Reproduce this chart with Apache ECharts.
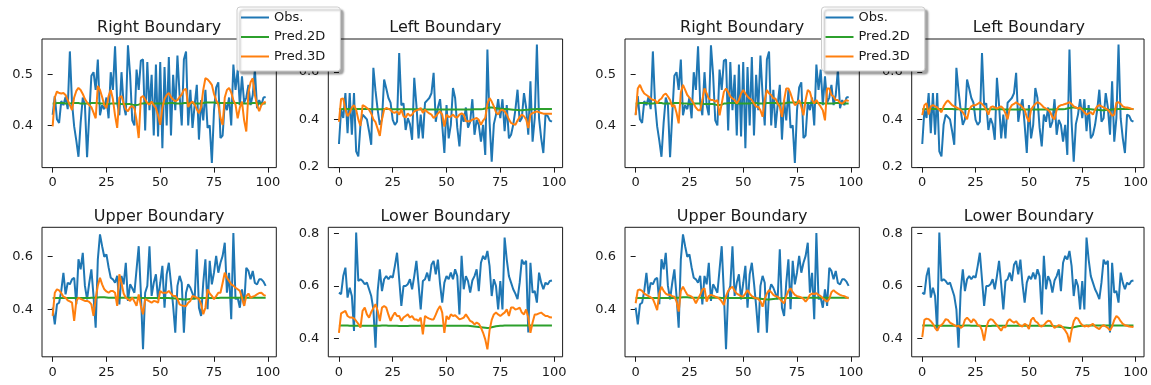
<!DOCTYPE html>
<html><head><meta charset="utf-8">
<script src="https://cdn.jsdelivr.net/npm/echarts@6/dist/echarts.min.js"></script>
<style>html,body{margin:0;padding:0;background:#fff}#c{width:1151px;height:385px}</style>
</head><body><div id="c"></div>
<script>
const seriesNames = ['Obs.', 'Pred.2D', 'Pred.3D'];
const panelTitles = ['Right Boundary', 'Left Boundary', 'Upper Boundary', 'Lower Boundary'];
const xTicks = [0, 25, 50, 75, 100];
const yTicksRB = [0.4, 0.5];
const yTicksLB = [0.2, 0.4, 0.6];
const yTicksUB = [0.4, 0.6];
const yTicksLoB = [0.4, 0.6, 0.8];

const RB_obs = [
0.421,0.458,0.412,0.405,0.448,0.440,0.456,0.432,0.546,0.445,
0.398,0.370,0.338,0.405,0.455,0.440,0.337,0.420,0.498,0.505,
0.470,0.530,0.420,0.440,0.432,0.455,0.414,0.505,0.470,0.556,
0.445,0.420,0.505,0.440,0.420,0.558,0.500,0.410,0.400,0.510,
0.470,0.528,0.530,0.390,0.525,0.430,0.500,0.380,0.520,0.378,
0.525,0.355,0.515,0.400,0.535,0.380,0.500,0.430,0.538,0.460,
0.400,0.530,0.546,0.400,0.470,0.395,0.440,0.480,0.372,0.450,
0.410,0.470,0.395,0.400,0.326,0.430,0.475,0.485,0.375,0.380,
0.445,0.430,0.455,0.400,0.520,0.470,0.510,0.440,0.497,0.445,
0.455,0.480,0.440,0.460,0.510,0.434,0.450,0.440,0.455,0.456];
const RB_p2 = [
0.443,0.443,0.444,0.444,0.444,0.444,0.443,0.443,0.443,0.444,
0.444,0.444,0.444,0.443,0.443,0.443,0.443,0.443,0.444,0.444,
0.444,0.444,0.443,0.443,0.443,0.442,0.442,0.443,0.443,0.443,
0.443,0.443,0.442,0.442,0.442,0.442,0.442,0.441,0.440,0.440,
0.441,0.443,0.443,0.444,0.444,0.444,0.444,0.443,0.443,0.443,
0.443,0.443,0.443,0.443,0.444,0.444,0.444,0.443,0.443,0.443,
0.443,0.444,0.444,0.444,0.444,0.444,0.443,0.443,0.443,0.443,
0.444,0.445,0.445,0.445,0.445,0.445,0.444,0.444,0.444,0.444,
0.444,0.444,0.444,0.444,0.444,0.444,0.444,0.443,0.443,0.443,
0.443,0.443,0.443,0.444,0.444,0.444,0.443,0.443,0.443,0.443];
const RB_p3_L = [
0.398,0.455,0.467,0.464,0.463,0.464,0.460,0.450,0.440,0.430,
0.455,0.468,0.474,0.470,0.462,0.452,0.445,0.440,0.436,0.425,
0.414,0.478,0.470,0.456,0.440,0.434,0.458,0.470,0.452,0.420,
0.395,0.455,0.458,0.444,0.432,0.428,0.436,0.438,0.434,0.410,
0.375,0.455,0.458,0.451,0.444,0.441,0.447,0.440,0.434,0.420,
0.401,0.435,0.452,0.460,0.464,0.456,0.451,0.448,0.450,0.456,
0.461,0.470,0.472,0.436,0.444,0.447,0.441,0.432,0.424,0.436,
0.470,0.493,0.491,0.486,0.480,0.462,0.450,0.441,0.415,0.401,
0.455,0.470,0.474,0.465,0.450,0.441,0.414,0.435,0.447,0.410,
0.388,0.465,0.485,0.493,0.460,0.440,0.428,0.440,0.444,0.447];
const RB_p3_R = [
0.420,0.473,0.480,0.470,0.463,0.460,0.457,0.453,0.450,0.450,
0.443,0.450,0.453,0.460,0.463,0.457,0.450,0.437,0.440,0.425,
0.404,0.465,0.480,0.470,0.460,0.455,0.450,0.443,0.435,0.430,
0.430,0.450,0.473,0.463,0.453,0.450,0.450,0.447,0.450,0.420,
0.443,0.466,0.473,0.466,0.457,0.453,0.450,0.443,0.450,0.463,
0.470,0.463,0.457,0.453,0.450,0.443,0.437,0.437,0.430,0.417,
0.450,0.470,0.463,0.460,0.453,0.453,0.443,0.437,0.417,0.450,
0.473,0.473,0.463,0.450,0.440,0.443,0.450,0.437,0.420,0.450,
0.470,0.466,0.450,0.443,0.450,0.443,0.437,0.430,0.410,0.473,
0.473,0.460,0.457,0.450,0.450,0.445,0.443,0.447,0.450,0.448];

const LB_obs = [
0.296,0.440,0.406,0.511,0.342,0.511,0.335,0.511,0.265,0.244,
0.377,0.420,0.410,0.400,0.350,0.293,0.617,0.520,0.440,0.377,
0.400,0.568,0.530,0.490,0.470,0.398,0.377,0.390,0.680,0.460,
0.468,0.355,0.405,0.380,0.314,0.575,0.460,0.320,0.420,0.320,
0.470,0.480,0.490,0.510,0.596,0.390,0.450,0.485,0.377,0.258,
0.460,0.320,0.377,0.532,0.490,0.365,0.286,0.420,0.390,0.450,
0.365,0.390,0.485,0.335,0.398,0.377,0.306,0.377,0.250,0.694,
0.390,0.222,0.380,0.420,0.485,0.405,0.485,0.350,0.460,0.320,
0.335,0.377,0.440,0.525,0.390,0.405,0.511,0.450,0.335,0.560,
0.306,0.405,0.715,0.405,0.320,0.258,0.420,0.415,0.395,0.390];
const LB_p2 = [
0.443,0.443,0.444,0.444,0.444,0.444,0.444,0.444,0.444,0.444,
0.444,0.444,0.444,0.444,0.444,0.443,0.443,0.443,0.443,0.443,
0.443,0.444,0.444,0.444,0.443,0.443,0.443,0.443,0.443,0.443,
0.443,0.443,0.443,0.443,0.443,0.443,0.443,0.443,0.442,0.442,
0.442,0.442,0.442,0.442,0.442,0.442,0.442,0.442,0.442,0.442,
0.442,0.442,0.442,0.442,0.442,0.442,0.442,0.442,0.442,0.442,
0.442,0.442,0.442,0.443,0.443,0.443,0.443,0.444,0.446,0.448,
0.450,0.450,0.449,0.447,0.446,0.445,0.444,0.444,0.444,0.443,
0.442,0.441,0.440,0.439,0.438,0.438,0.439,0.440,0.441,0.442,
0.443,0.443,0.444,0.444,0.444,0.444,0.444,0.444,0.444,0.444];
const LB_p3_L = [
0.390,0.486,0.488,0.441,0.413,0.427,0.450,0.460,0.440,0.400,
0.372,0.460,0.455,0.448,0.441,0.425,0.400,0.388,0.360,0.330,
0.400,0.441,0.448,0.444,0.440,0.430,0.428,0.434,0.420,0.441,
0.413,0.408,0.425,0.415,0.420,0.434,0.438,0.441,0.448,0.427,
0.441,0.432,0.425,0.420,0.406,0.413,0.425,0.434,0.420,0.370,
0.420,0.410,0.412,0.420,0.410,0.408,0.420,0.425,0.420,0.392,
0.392,0.392,0.399,0.402,0.406,0.398,0.377,0.395,0.406,0.465,
0.490,0.475,0.455,0.430,0.420,0.438,0.440,0.434,0.420,0.400,
0.385,0.380,0.377,0.395,0.410,0.420,0.413,0.400,0.363,0.420,
0.427,0.430,0.434,0.430,0.427,0.424,0.424,0.424,0.424,0.424];
const LB_p3_R = [
0.418,0.460,0.468,0.420,0.455,0.460,0.455,0.450,0.440,0.430,
0.455,0.470,0.480,0.470,0.460,0.455,0.450,0.445,0.440,0.430,
0.415,0.400,0.440,0.455,0.460,0.460,0.465,0.472,0.465,0.455,
0.440,0.420,0.450,0.455,0.450,0.445,0.450,0.455,0.445,0.425,
0.400,0.445,0.460,0.465,0.472,0.465,0.460,0.450,0.440,0.410,
0.390,0.440,0.455,0.465,0.472,0.468,0.460,0.450,0.445,0.440,
0.430,0.410,0.400,0.440,0.455,0.460,0.462,0.465,0.468,0.472,
0.465,0.455,0.450,0.445,0.450,0.440,0.430,0.420,0.425,0.430,
0.420,0.440,0.455,0.460,0.455,0.450,0.445,0.440,0.430,0.415,
0.420,0.470,0.472,0.465,0.455,0.450,0.450,0.448,0.445,0.443];

const UB_obs = [
0.406,0.343,0.419,0.425,0.470,0.539,0.457,0.501,0.495,0.514,
0.520,0.419,0.590,0.552,0.615,0.489,0.438,0.500,0.552,0.450,
0.330,0.590,0.685,0.640,0.600,0.609,0.560,0.520,0.514,0.501,
0.527,0.419,0.527,0.495,0.577,0.432,0.495,0.480,0.463,0.552,
0.640,0.463,0.248,0.463,0.489,0.640,0.451,0.501,0.533,0.438,
0.500,0.565,0.406,0.533,0.577,0.500,0.413,0.311,0.489,0.527,
0.501,0.311,0.463,0.495,0.482,0.460,0.438,0.628,0.406,0.375,
0.501,0.590,0.400,0.584,0.495,0.540,0.603,0.539,0.577,0.603,
0.653,0.463,0.539,0.362,0.690,0.438,0.444,0.406,0.476,0.413,
0.558,0.546,0.514,0.546,0.500,0.495,0.514,0.514,0.505,0.489];
const UB_p2 = [
0.442,0.443,0.443,0.443,0.443,0.443,0.443,0.443,0.443,0.443,
0.443,0.443,0.443,0.443,0.443,0.443,0.443,0.443,0.444,0.444,
0.444,0.445,0.446,0.446,0.446,0.445,0.444,0.444,0.444,0.444,
0.444,0.444,0.444,0.444,0.444,0.444,0.444,0.444,0.444,0.444,
0.443,0.443,0.443,0.443,0.443,0.443,0.443,0.443,0.443,0.443,
0.443,0.443,0.443,0.443,0.443,0.442,0.442,0.441,0.440,0.439,
0.438,0.437,0.437,0.438,0.439,0.440,0.441,0.442,0.442,0.443,
0.443,0.443,0.443,0.443,0.443,0.443,0.443,0.443,0.444,0.444,
0.444,0.444,0.444,0.444,0.444,0.444,0.444,0.444,0.444,0.444,
0.444,0.444,0.444,0.444,0.444,0.444,0.444,0.444,0.444,0.444];
const UB_p3_L = [
0.375,0.463,0.476,0.472,0.462,0.448,0.444,0.434,0.430,0.425,
0.356,0.432,0.444,0.440,0.436,0.432,0.432,0.428,0.419,0.375,
0.440,0.490,0.520,0.495,0.476,0.468,0.463,0.470,0.470,0.463,
0.413,0.533,0.500,0.460,0.444,0.438,0.432,0.445,0.430,0.413,
0.457,0.413,0.381,0.438,0.435,0.430,0.425,0.432,0.430,0.425,
0.470,0.463,0.463,0.463,0.470,0.460,0.451,0.451,0.440,0.419,
0.415,0.413,0.413,0.425,0.432,0.451,0.448,0.444,0.440,0.420,
0.381,0.406,0.476,0.460,0.451,0.438,0.450,0.463,0.463,0.500,
0.539,0.520,0.508,0.495,0.490,0.482,0.476,0.470,0.444,0.413,
0.450,0.460,0.444,0.448,0.451,0.457,0.462,0.463,0.455,0.451];
const UB_p3_R = [
0.423,0.473,0.475,0.470,0.460,0.455,0.450,0.445,0.440,0.420,
0.397,0.460,0.486,0.470,0.460,0.455,0.455,0.450,0.448,0.430,
0.391,0.470,0.486,0.470,0.455,0.452,0.448,0.440,0.423,0.440,
0.455,0.475,0.480,0.429,0.450,0.455,0.452,0.448,0.445,0.440,
0.430,0.416,0.450,0.470,0.480,0.486,0.470,0.460,0.455,0.450,
0.448,0.460,0.473,0.460,0.450,0.445,0.442,0.440,0.430,0.410,
0.440,0.460,0.473,0.465,0.455,0.450,0.448,0.440,0.430,0.423,
0.450,0.470,0.480,0.465,0.455,0.450,0.448,0.445,0.440,0.429,
0.440,0.455,0.460,0.458,0.461,0.455,0.450,0.442,0.435,0.429,
0.440,0.465,0.473,0.465,0.460,0.455,0.452,0.450,0.445,0.442];

const LoB_obs = [
0.574,0.568,0.637,0.669,0.555,0.593,0.561,0.428,0.803,0.618,
0.625,0.618,0.606,0.612,0.587,0.561,0.510,0.364,0.580,0.663,
0.580,0.625,0.637,0.625,0.637,0.631,0.676,0.726,0.625,0.523,
0.599,0.599,0.606,0.625,0.587,0.637,0.695,0.606,0.510,0.618,
0.625,0.650,0.618,0.680,0.695,0.644,0.700,0.606,0.536,0.612,
0.637,0.625,0.650,0.625,0.663,0.637,0.491,0.714,0.587,0.637,
0.618,0.574,0.620,0.637,0.663,0.580,0.688,0.714,0.700,0.733,
0.676,0.561,0.625,0.599,0.510,0.618,0.510,0.784,0.700,0.637,
0.612,0.587,0.570,0.549,0.612,0.700,0.682,0.695,0.422,0.688,
0.574,0.580,0.536,0.650,0.612,0.587,0.612,0.605,0.618,0.620];
const LoB_p2 = [
0.449,0.449,0.449,0.449,0.449,0.448,0.448,0.448,0.448,0.448,
0.448,0.448,0.448,0.448,0.448,0.448,0.448,0.448,0.448,0.448,
0.449,0.449,0.449,0.448,0.448,0.448,0.448,0.448,0.447,0.447,
0.447,0.447,0.447,0.448,0.448,0.448,0.448,0.448,0.448,0.448,
0.448,0.448,0.448,0.448,0.448,0.448,0.448,0.448,0.448,0.448,
0.448,0.448,0.448,0.448,0.448,0.448,0.448,0.448,0.448,0.448,
0.448,0.447,0.446,0.445,0.444,0.443,0.442,0.441,0.440,0.439,
0.440,0.442,0.444,0.446,0.447,0.448,0.448,0.449,0.449,0.449,
0.449,0.449,0.449,0.449,0.449,0.449,0.449,0.449,0.449,0.449,
0.449,0.449,0.449,0.449,0.449,0.449,0.449,0.449,0.449,0.449];
const LoB_p3_L = [
0.421,0.495,0.500,0.504,0.485,0.479,0.479,0.476,0.466,0.455,
0.441,0.505,0.517,0.491,0.479,0.500,0.515,0.530,0.505,0.466,
0.517,0.523,0.517,0.490,0.466,0.485,0.498,0.485,0.485,0.466,
0.479,0.485,0.491,0.479,0.485,0.472,0.472,0.466,0.479,0.415,
0.485,0.479,0.475,0.472,0.472,0.490,0.510,0.523,0.498,0.421,
0.485,0.472,0.491,0.485,0.488,0.480,0.472,0.475,0.479,0.491,
0.479,0.466,0.462,0.453,0.460,0.455,0.441,0.421,0.396,0.358,
0.430,0.470,0.491,0.498,0.491,0.485,0.492,0.498,0.510,0.485,
0.517,0.517,0.510,0.512,0.517,0.498,0.491,0.510,0.479,0.421,
0.460,0.491,0.491,0.495,0.498,0.491,0.485,0.485,0.480,0.479];
const LoB_p3_R = [
0.404,0.470,0.475,0.473,0.465,0.455,0.440,0.429,0.445,0.450,
0.460,0.473,0.470,0.460,0.455,0.450,0.445,0.448,0.440,0.445,
0.470,0.479,0.470,0.460,0.473,0.465,0.450,0.448,0.430,0.391,
0.440,0.465,0.473,0.470,0.460,0.450,0.440,0.429,0.445,0.441,
0.465,0.473,0.465,0.460,0.465,0.455,0.448,0.445,0.455,0.450,
0.435,0.470,0.479,0.465,0.460,0.448,0.445,0.450,0.460,0.467,
0.465,0.450,0.440,0.445,0.450,0.448,0.440,0.430,0.416,0.385,
0.430,0.465,0.479,0.475,0.460,0.450,0.445,0.448,0.445,0.450,
0.455,0.445,0.440,0.435,0.445,0.450,0.445,0.440,0.430,0.445,
0.470,0.485,0.478,0.465,0.455,0.450,0.448,0.445,0.444,0.443];

// ---- layout (not data) ----
const colors = ['#1f77b4', '#2ca02c', '#ff7f0e'];
const W = 234.3;
const rowTop = [39, 227.3];
const rowH = [128.6, 129.5];
const colLeft = [42, 328.3, 625, 911.7];
const panels = [
  {t:0, obs:RB_obs,  p2:RB_p2,  p3:RB_p3_L,  col:0, row:0, yr:[0.3167,0.5705], yt:yTicksRB},
  {t:1, obs:LB_obs,  p2:LB_p2,  p3:LB_p3_L,  col:1, row:0, yr:[0.1966,0.7388], yt:yTicksLB},
  {t:2, obs:UB_obs,  p2:UB_p2,  p3:UB_p3_L,  col:0, row:1, yr:[0.2194,0.7118], yt:yTicksUB},
  {t:3, obs:LoB_obs, p2:LoB_p2, p3:LoB_p3_L, col:1, row:1, yr:[0.3295,0.8229], yt:yTicksLoB},
  {t:0, obs:RB_obs,  p2:RB_p2,  p3:RB_p3_R,  col:2, row:0, yr:[0.3167,0.5705], yt:yTicksRB},
  {t:1, obs:LB_obs,  p2:LB_p2,  p3:LB_p3_R,  col:3, row:0, yr:[0.1966,0.7388], yt:yTicksLB},
  {t:2, obs:UB_obs,  p2:UB_p2,  p3:UB_p3_R,  col:2, row:1, yr:[0.2194,0.7118], yt:yTicksUB},
  {t:3, obs:LoB_obs, p2:LoB_p2, p3:LoB_p3_R, col:3, row:1, yr:[0.3295,0.8229], yt:yTicksLoB}
];
const FONT = 'DejaVu Sans';
const ink = '#1a1a1a';
const grid = [], xAxis = [], yAxis = [], series = [], title = [];
panels.forEach((p, i) => {
  const left = colLeft[p.col], top = rowTop[p.row], h = rowH[p.row];
  grid.push({left: left, top: top, width: W, height: h, show: true, borderColor: ink, borderWidth: 1, backgroundColor: 'transparent', containLabel: false});
  xAxis.push({type: 'value', gridIndex: i, min: -4.95, max: 103.95,
    splitLine: {show: false}, axisLine: {show: false},
    axisTick: {show: true, length: 5, lineStyle: {color: ink, width: 1}, customValues: xTicks},
    axisLabel: {show: true, customValues: xTicks, margin: 9, color: ink, fontFamily: FONT, fontSize: 13, formatter: v => String(v)}});
  yAxis.push({type: 'value', gridIndex: i, min: p.yr[0], max: p.yr[1],
    splitLine: {show: false}, axisLine: {show: false},
    axisTick: {show: true, length: 5, lineStyle: {color: ink, width: 1}, customValues: p.yt},
    axisLabel: {show: true, customValues: p.yt, margin: 9, color: ink, fontFamily: FONT, fontSize: 13, formatter: v => v.toFixed(1)}});
  title.push({text: panelTitles[p.t], left: left + W / 2, top: top - 18.8, textAlign: 'center', padding: 0,
    textStyle: {fontFamily: FONT, fontSize: 16, fontWeight: 'normal', color: ink}});
  [p.obs, p.p2, p.p3].forEach((arr, k) => {
    series.push({type: 'line', name: seriesNames[k], xAxisIndex: i, yAxisIndex: i,
      data: arr.map((v, j) => [j, v]), showSymbol: false, symbol: 'none', clip: true,
      color: colors[k], lineStyle: {color: colors[k], width: 2}, z: 2 + k,
      emphasis: {disabled: true}, silent: true, animation: false});
  });
});
const legendBase = {
  orient: 'vertical', top: 7, data: seriesNames, icon: 'path://M0,0H28V2H0Z', symbolKeepAspect: true,
  itemWidth: 28, itemHeight: 14, itemGap: 6.5,
  padding: [4, 15, 8, 4], backgroundColor: '#ffffff', borderColor: '#cccccc', borderWidth: 1, borderRadius: 3,
  shadowColor: 'rgba(0,0,0,0.35)', shadowOffsetX: 3, shadowOffsetY: 3, shadowBlur: 2,
  textStyle: {fontFamily: FONT, fontSize: 13, color: ink},
  selectedMode: false, z: 20
};
const legend = [Object.assign({}, legendBase, {left: 237}), Object.assign({}, legendBase, {left: 821.5})];
const chart = echarts.init(document.getElementById('c'), null, {renderer: 'canvas'});
chart.setOption({animation: false, backgroundColor: '#fff', title, grid, xAxis, yAxis, series, legend});
</script></body></html>
